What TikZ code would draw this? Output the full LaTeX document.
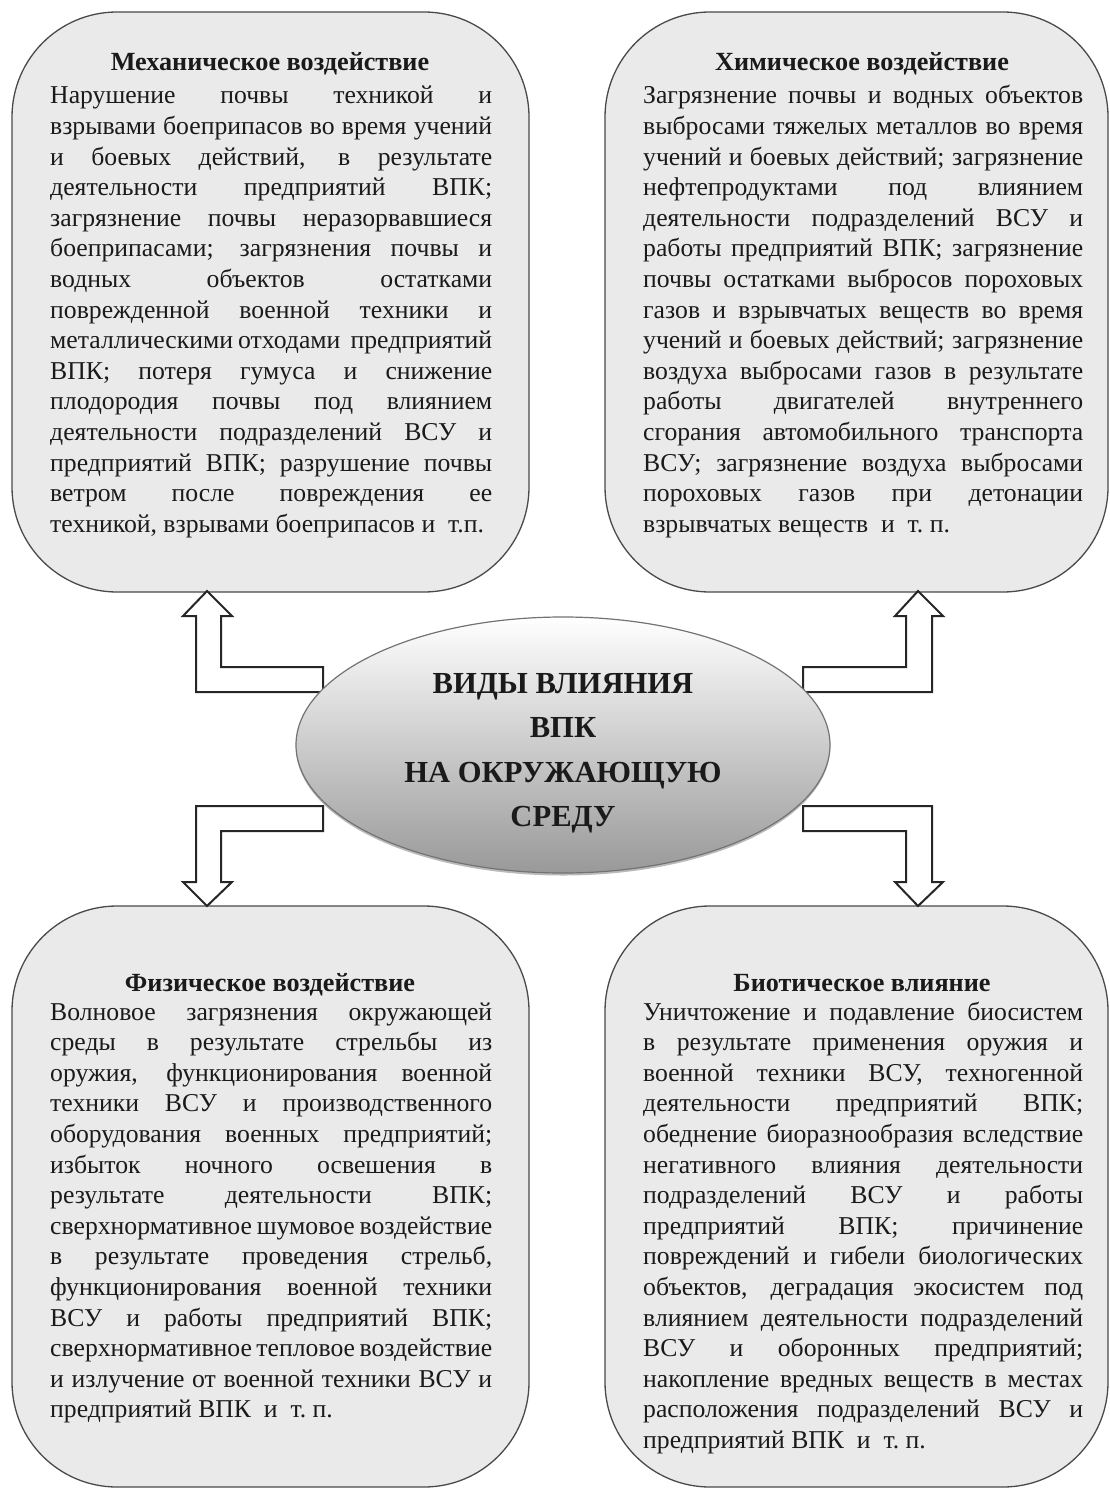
\documentclass[tikz,border=0pt]{standalone}
\usepackage{fontspec}
\setmainfont{Liberation Serif}
\usetikzlibrary{shapes.geometric,shadows}
\newcommand\jl[1]{\hbox to \hsize{#1}}
\newcommand\lastl[1]{\hbox{#1}}
\newcommand\cl[1]{\hbox to \hsize{\hfil#1\hfil}}
\definecolor{boxfill}{HTML}{EAEAEA}
\definecolor{boxline}{HTML}{4A4A4A}
\definecolor{txt}{HTML}{1A1A1A}
\tikzset{
  infobox/.style={draw=boxline, line width=1.3pt, fill=boxfill, rounded corners=105pt, inner sep=0pt},
  bodytext/.style={inner sep=0pt, anchor=base west, text=txt, font=\fontsize{25.7}{30.6}\selectfont},
  titletext/.style={inner sep=0pt, anchor=base, text=txt, font=\bfseries\fontsize{26.2}{30.6}\selectfont},
  blockarrow/.style={draw=black!85, line width=2pt, fill=white, line join=miter},
}
\begin{document}
\begin{tikzpicture}[x=1pt,y=-1pt]
\useasboundingbox (0,0) rectangle (1110,1490);
\fill[white] (0,0) rectangle (1110,1490);

% boxes
\node[infobox, minimum width=517pt, minimum height=580pt] (mech) at (270.5,302) {};
\node[infobox, minimum width=503pt, minimum height=580pt] (chem) at (856.5,302) {};
\node[infobox, minimum width=517pt, minimum height=581pt] (phys) at (270.5,1196.5) {};
\node[infobox, minimum width=503pt, minimum height=581pt] (bio) at (856.5,1196.5) {};

% titles
\node[titletext] (mecht) at (270,71) {Механическое воздействие};
\node[titletext] (chemt) at (862,71) {Химическое воздействие};
\node[titletext] (physt) at (270,991) {Физическое воздействие};
\node[titletext] (biot) at (862,991) {Биотическое влияние};

% body texts
\node[bodytext] (mechb) at (50,104) {\vtop{\hsize=442pt \baselineskip=30.6pt
\jl{Нарушение почвы техникой и}
\jl{взрывами боеприпасов во время учений}
\jl{и боевых действий, в результате}
\jl{деятельности предприятий ВПК;}
\jl{загрязнение почвы неразорвавшиеся}
\jl{боеприпасами; загрязнения почвы и}
\jl{водных объектов остатками}
\jl{поврежденной военной техники и}
\jl{металлическими отходами~ предприятий}
\jl{ВПК; потеря гумуса и снижение}
\jl{плодородия почвы под влиянием}
\jl{деятельности подразделений ВСУ и}
\jl{предприятий ВПК; разрушение почвы}
\jl{ветром после повреждения ее}
\lastl{техникой, взрывами боеприпасов и~ т.п.}}};

\node[bodytext] (chemb) at (643,104) {\vtop{\hsize=440pt \baselineskip=30.6pt
\jl{Загрязнение почвы и водных объектов}
\jl{выбросами тяжелых металлов во время}
\jl{учений и боевых действий; загрязнение}
\jl{нефтепродуктами под влиянием}
\jl{деятельности подразделений ВСУ и}
\jl{работы предприятий ВПК; загрязнение}
\jl{почвы остатками выбросов пороховых}
\jl{газов и взрывчатых веществ во время}
\jl{учений и боевых действий; загрязнение}
\jl{воздуха выбросами газов в результате}
\jl{работы двигателей внутреннего}
\jl{сгорания автомобильного транспорта}
\jl{ВСУ; загрязнение воздуха выбросами}
\jl{пороховых газов при детонации}
\lastl{взрывчатых веществ~ и~ т.~п.}}};

\node[bodytext] (physb) at (50,1020) {\vtop{\hsize=442pt \baselineskip=30.6pt
\jl{Волновое загрязнения окружающей}
\jl{среды в результате стрельбы из}
\jl{оружия, функционирования военной}
\jl{техники ВСУ и производственного}
\jl{оборудования военных предприятий;}
\jl{избыток ночного освешения в}
\jl{результате деятельности ВПК;}
\jl{сверхнормативное шумовое воздействие}
\jl{в результате проведения стрельб,}
\jl{функционирования военной техники}
\jl{ВСУ и работы предприятий ВПК;}
\jl{сверхнормативное тепловое воздействие}
\jl{и излучение от военной техники ВСУ и}
\lastl{предприятий ВПК~ и~ т.~п.}}};

\node[bodytext] (biob) at (643,1020) {\vtop{\hsize=440pt \baselineskip=30.6pt
\jl{Уничтожение и подавление биосистем}
\jl{в результате применения оружия и}
\jl{военной техники ВСУ, техногенной}
\jl{деятельности предприятий ВПК;}
\jl{обеднение биоразнообразия вследствие}
\jl{негативного влияния деятельности}
\jl{подразделений ВСУ и работы}
\jl{предприятий ВПК; причинение}
\jl{повреждений и гибели биологических}
\jl{объектов, деградация экосистем под}
\jl{влиянием деятельности подразделений}
\jl{ВСУ и оборонных предприятий;}
\jl{накопление вредных веществ в местах}
\jl{расположения подразделений ВСУ и}
\lastl{предприятий ВПК~ и~ т.~п.}}};

% block arrows
\draw[blockarrow] (323,692) -- (196,692) -- (196,616) -- (183,616) -- (207,591) -- (232,616) -- (221,616) -- (221,667) -- (323,667) -- cycle;
\draw[blockarrow] (803,692) -- (932,692) -- (932,616) -- (943,616) -- (918,591) -- (895,616) -- (906,616) -- (906,667) -- (803,667) -- cycle;
\draw[blockarrow] (323,806) -- (196,806) -- (196,882) -- (183,882) -- (207,906) -- (232,882) -- (221,882) -- (221,831) -- (323,831) -- cycle;
\draw[blockarrow] (803,806) -- (932,806) -- (932,882) -- (943,882) -- (918,906) -- (895,882) -- (906,882) -- (906,831) -- (803,831) -- cycle;

% central ellipse
\node[ellipse, minimum width=534pt, minimum height=256pt, inner sep=0pt,
      draw=black!55, line width=1.2pt, top color=white, bottom color=black!40,
      drop shadow={shadow xshift=0pt, shadow yshift=-2.5pt, fill=black!45, opacity=0.6}] (center) at (563,745) {};
\node[inner sep=0pt, anchor=base, text=txt, font=\bfseries\fontsize{30.6}{44.5}\selectfont] (centert) at (563,693)
  {\vtop{\hsize=500pt \baselineskip=44.5pt
   \cl{ВИДЫ ВЛИЯНИЯ}
   \cl{ВПК}
   \cl{НА ОКРУЖАЮЩУЮ}
   \cl{СРЕДУ}}};
\end{tikzpicture}
\end{document}
